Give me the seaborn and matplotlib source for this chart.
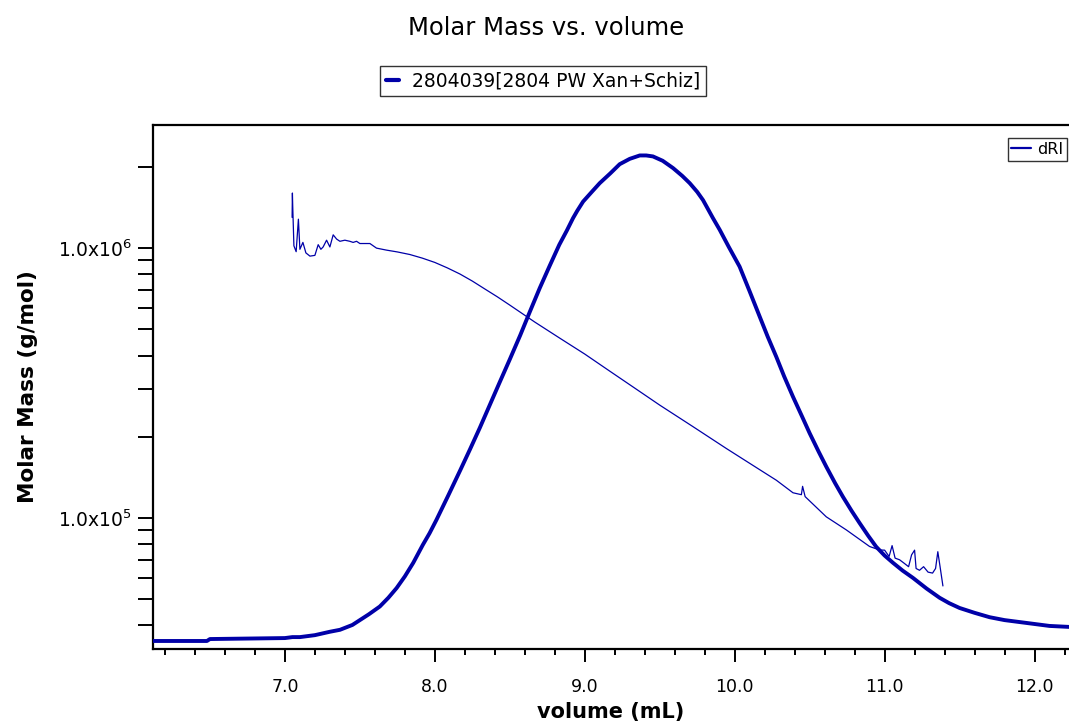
import numpy as np
import pandas as pd
import matplotlib
matplotlib.use("Agg")
import matplotlib.pyplot as plt
import matplotlib.ticker as mticker
from matplotlib.lines import Line2D
import seaborn as sns

# -------------------------------
# DATA
# -------------------------------

# dRI trace (normalised, peak = 1)
dri_volume = [6.12, 6.48, 6.50, 7.00, 7.05, 7.10, 7.20, 7.30, 7.367, 7.45, 7.50,
              7.56, 7.633, 7.69, 7.745, 7.80, 7.856, 7.92, 7.965, 8.01, 8.09, 8.17,
              8.235, 8.30, 8.365, 8.43, 8.50, 8.57, 8.635, 8.70, 8.765, 8.83, 8.88,
              8.922, 8.95, 8.989, 9.05, 9.10, 9.17, 9.233, 9.30, 9.367, 9.41, 9.455,
              9.52, 9.589, 9.65, 9.70, 9.75, 9.789, 9.855, 9.90, 9.96, 10.033, 10.10,
              10.167, 10.22, 10.278, 10.33, 10.389, 10.45, 10.50, 10.56, 10.611, 10.67,
              10.722, 10.78, 10.833, 10.89, 10.944, 11.00, 11.056, 11.12, 11.189, 11.28,
              11.367, 11.43, 11.50, 11.60, 11.70, 11.80, 11.90, 12.00, 12.10, 12.23]
dri_signal = [0.0, 0.0, 0.004, 0.006, 0.008, 0.008, 0.012, 0.019, 0.023, 0.033, 0.043,
              0.055, 0.071, 0.089, 0.109, 0.133, 0.161, 0.198, 0.222, 0.249, 0.300, 0.352,
              0.395, 0.439, 0.485, 0.531, 0.580, 0.630, 0.679, 0.727, 0.772, 0.816, 0.845,
              0.871, 0.886, 0.905, 0.926, 0.943, 0.963, 0.982, 0.993, 1.0, 1.0, 0.998,
              0.989, 0.974, 0.958, 0.943, 0.925, 0.908, 0.871, 0.847, 0.812, 0.771, 0.720,
              0.668, 0.627, 0.585, 0.545, 0.503, 0.462, 0.428, 0.390, 0.359, 0.325,
              0.297, 0.268, 0.243, 0.217, 0.194, 0.176, 0.161, 0.145, 0.130, 0.108,
              0.089, 0.078, 0.068, 0.058, 0.049, 0.043, 0.039, 0.035, 0.031, 0.029]

# molar mass trace (g/mol)
mm_volume = [7.048, 7.050, 7.052, 7.060, 7.075, 7.090, 7.100, 7.120, 7.140, 7.167,
             7.200, 7.222, 7.240, 7.255, 7.278, 7.300, 7.322, 7.345, 7.367, 7.400,
             7.433, 7.455, 7.478, 7.500, 7.522, 7.567, 7.611, 7.678, 7.750, 7.833,
             7.917, 8.000, 8.083, 8.167, 8.250, 8.333, 8.417, 8.500, 8.667, 8.833,
             9.000, 9.167, 9.333, 9.500, 9.722, 9.944, 10.167, 10.278, 10.389, 10.445,
             10.453, 10.470, 10.611, 10.745, 10.900, 10.967, 11.000, 11.030, 11.050,
             11.070, 11.100, 11.130, 11.160, 11.180, 11.200, 11.210, 11.233, 11.260,
             11.290, 11.320, 11.340, 11.355, 11.370, 11.389]
mm_mass = [1.30e6, 1.60e6, 1.44e6, 1.02e6, 9.7e5, 1.28e6, 9.9e5, 1.05e6, 9.6e5, 9.34e5,
           9.4e5, 1.03e6, 9.9e5, 1.01e6, 1.07e6, 1.01e6, 1.12e6, 1.08e6, 1.06e6, 1.07e6,
           1.06e6, 1.05e6, 1.06e6, 1.04e6, 1.04e6, 1.04e6, 1.0e6, 9.83e5, 9.68e5, 9.47e5,
           9.18e5, 8.85e5, 8.45e5, 8.02e5, 7.55e5, 7.06e5, 6.60e5, 6.15e5, 5.32e5, 4.64e5,
           4.05e5, 3.50e5, 3.03e5, 2.62e5, 2.18e5, 1.81e5, 1.51e5, 1.38e5, 1.24e5, 1.22e5,
           1.31e5, 1.20e5, 1.01e5, 9.03e4, 7.84e4, 7.61e4, 7.6e4, 7.2e4, 7.9e4,
           7.1e4, 7.0e4, 6.8e4, 6.6e4, 7.3e4, 7.6e4, 6.5e4, 6.4e4, 6.6e4,
           6.3e4, 6.25e4, 6.5e4, 7.5e4, 6.6e4, 5.6e4]

title = "Molar Mass vs. volume"
sample_label = "2804039[2804 PW Xan+Schiz]"
dri_label = "dRI"
color = "#0000a8"

dri = pd.DataFrame({"volume": dri_volume, "signal": dri_signal})
mm = pd.DataFrame({"volume": mm_volume, "mass": mm_mass})

# -------------------------------
# PLOT
# -------------------------------
sns.set_style("white")
plt.rcParams["font.family"] = ["DejaVu Sans"]
plt.rcParams["text.color"] = "black"
plt.rcParams["axes.labelcolor"] = "black"
plt.rcParams["xtick.color"] = "black"
plt.rcParams["ytick.color"] = "black"

fig = plt.figure(figsize=(10.69, 7.24), dpi=100)
ax = fig.add_axes([0.1431, 0.1036, 0.8569, 0.7238])

sns.lineplot(data=mm, x="volume", y="mass", ax=ax, color=color, lw=0.9,
             sort=False, estimator=None)
ax.set_yscale("log")
ax.set_xlim(6.12, 12.23)
ax.set_ylim(3.27e4, 2.86e6)

ax2 = ax.twinx()
sns.lineplot(data=dri, x="volume", y="signal", ax=ax2, color=color, lw=2.8,
             sort=False, estimator=None)
ax2.set_ylim(-0.0165, 1.0628)
ax2.set_yticks([])
ax2.set_ylabel("")
for s in ax2.spines.values():
    s.set_visible(False)

# axes styling
for side in ["left", "bottom", "top"]:
    ax.spines[side].set_color("black")
    ax.spines[side].set_linewidth(1.6)
ax.spines["right"].set_visible(False)

ax.xaxis.set_major_locator(mticker.MultipleLocator(1.0))
ax.xaxis.set_minor_locator(mticker.MultipleLocator(0.2))
ax.xaxis.set_major_formatter(mticker.FormatStrFormatter("%.1f"))
ax.yaxis.set_major_locator(mticker.FixedLocator([1e5, 1e6]))
ax.yaxis.set_major_formatter(mticker.FixedFormatter([r"1.0x10$^{5}$", r"1.0x10$^{6}$"]))
ax.yaxis.set_minor_locator(mticker.LogLocator(base=10, subs=np.arange(2, 10)))
ax.yaxis.set_minor_formatter(mticker.NullFormatter())

ax.tick_params(axis="x", which="major", direction="out", length=9, width=1.4,
               labelsize=12.5, pad=12, bottom=True)
ax.tick_params(axis="x", which="minor", direction="out", length=4, width=1.4, bottom=True)
ax.tick_params(axis="y", which="both", direction="out", length=11, width=1.4,
               labelsize=13.5, pad=4, left=True)

ax.set_xlabel("volume (mL)", fontsize=15, fontweight="bold", labelpad=4)
ax.set_ylabel("Molar Mass (g/mol)", fontsize=15.5, fontweight="bold", labelpad=14)

# legends
dri_handle = Line2D([], [], color=color, lw=1.6)
leg = ax2.legend([dri_handle], [dri_label], loc="upper right",
                 bbox_to_anchor=(0.998, 0.975), fontsize=11.5,
                 frameon=True, fancybox=False, edgecolor="black",
                 handlelength=1.2, handletextpad=0.4, borderpad=0.25,
                 borderaxespad=0.0)
leg.get_frame().set_linewidth(1.0)

sample_handle = Line2D([], [], color=color, lw=3)
leg2 = fig.legend([sample_handle], [sample_label], loc="center",
                  bbox_to_anchor=(0.508, 0.888), fontsize=13.5, frameon=True,
                  fancybox=False, edgecolor="black", handlelength=0.7,
                  handletextpad=0.7, borderpad=0.3)
leg2.get_frame().set_linewidth(1.0)

fig.text(0.511, 0.961, title, ha="center", va="center", fontsize=17.5)

fig.savefig("out.png", dpi=100)
